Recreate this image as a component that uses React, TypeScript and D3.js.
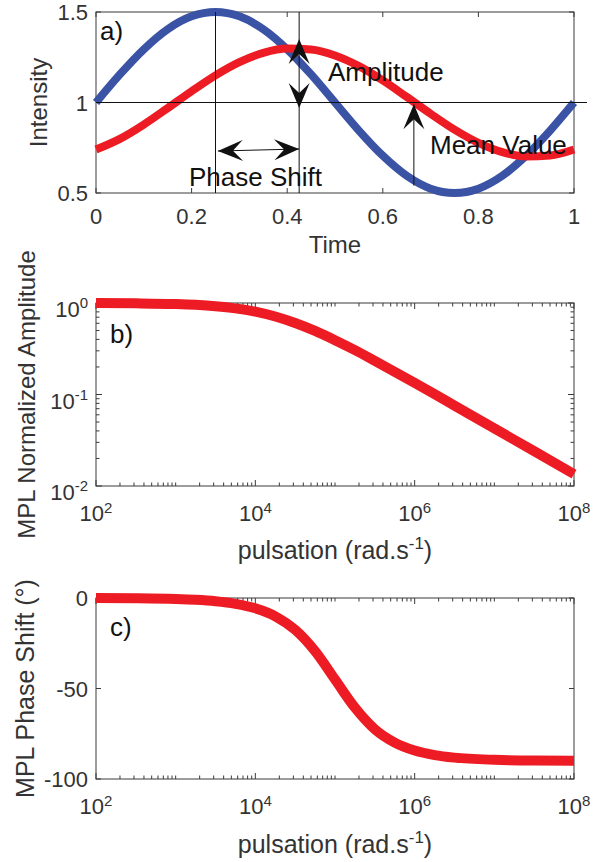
import React from "react";
import * as d3 from "d3";

// ---- Panel a data ----
const timeA = [0, 0.05, 0.1, 0.15, 0.2, 0.25, 0.3, 0.35, 0.4, 0.45, 0.5, 0.55, 0.6, 0.65, 0.7, 0.75, 0.8, 0.85, 0.9, 0.95, 1];
const blueA = [1, 1.155, 1.294, 1.405, 1.476, 1.5, 1.476, 1.405, 1.294, 1.155, 1, 0.845, 0.706, 0.595, 0.524, 0.5, 0.524, 0.595, 0.706, 0.845, 1];
const redA = [0.74, 0.799, 0.878, 0.969, 1.062, 1.15, 1.223, 1.274, 1.298, 1.293, 1.26, 1.201, 1.122, 1.031, 0.938, 0.85, 0.777, 0.726, 0.702, 0.707, 0.74];
const xTicksA = [0, 0.2, 0.4, 0.6, 0.8, 1];
const xTickLabelsA = ["0", "0.2", "0.4", "0.6", "0.8", "1"];
const yTicksA = [0.5, 1, 1.5];
const yTickLabelsA = ["0.5", "1", "1.5"];

// ---- Panels b & c data ----
const pulsation = [1e2, 3.16e2, 1e3, 1.78e3, 3.16e3, 5.62e3, 1e4, 1.78e4, 3.16e4, 5.62e4, 1e5, 1.78e5, 3.16e5, 5.62e5, 1e6, 1.78e6, 3.16e6, 1e7, 3.16e7, 1e8];
const amplitude = [0.997, 0.991, 0.974, 0.955, 0.923, 0.874, 0.803, 0.711, 0.604, 0.495, 0.392, 0.305, 0.233, 0.177, 0.134, 0.101, 0.0757, 0.0426, 0.024, 0.0135];
const phaseShift = [-0.06, -0.18, -0.57, -1.02, -1.81, -3.22, -5.71, -10.1, -17.6, -29.4, -45.0, -60.6, -72.5, -79.9, -84.3, -86.8, -88.2, -89.4, -89.8, -89.9];
const xDecadeLabels = [2, 4, 6, 8];
const yDecadeLabelsB = [0, -1, -2];
const yTicksC = [0, -50, -100];
const yTickLabelsC = ["0", "-50", "-100"];

const FONT = "'Liberation Sans', Arial, Helvetica, sans-serif";
const AXC = "#3a3a3a";
const TXC = "#333333";
const BLUE = "#3a53a4";
const RED = "#ed1c24";
const TICK_FS = 22;
const LABEL_FS = 24;
const ANN_FS = 26;

const X0 = 96, X1 = 574;

function Box({ y0, y1 }: { y0: number; y1: number }) {
  return <rect x={X0} y={y0} width={X1 - X0} height={y1 - y0} fill="none" stroke={AXC} strokeWidth={1} />;
}

function Arrow({ x1, y1, x2, y2 }: { x1: number; y1: number; x2: number; y2: number }) {
  const L = 25, W = 21, N = 15;
  const ang = Math.atan2(y2 - y1, x2 - x1);
  const c = Math.cos(ang), s = Math.sin(ang);
  const pt = (a: number, b: number) => [x2 + a * c - b * s, y2 + a * s + b * c];
  const p1 = pt(-L, W / 2), p2 = pt(-N, 0), p3 = pt(-L, -W / 2);
  return (
    <path d={`M${x2},${y2}L${p1[0]},${p1[1]}L${p2[0]},${p2[1]}L${p3[0]},${p3[1]}Z`} fill="#111" />
  );
}

function logMinor(lo: number, hi: number) {
  const out: { v: number; major: boolean }[] = [];
  for (let k = lo; k < hi; k++) {
    for (let m = 1; m <= 9; m++) out.push({ v: m * Math.pow(10, k), major: m === 1 });
  }
  out.push({ v: Math.pow(10, hi), major: true });
  return out;
}

export default function App() {
  const ya0 = 12, ya1 = 193;
  const xa = d3.scaleLinear().domain([0, 1]).range([X0, X1]);
  const ya = d3.scaleLinear().domain([0.5, 1.5]).range([ya1, ya0]);
  const lineA = (vals: number[]) =>
    d3.line<number>().x((_, i) => xa(timeA[i])).y((d) => ya(d)).curve(d3.curveMonotoneX)(vals) || "";

  const yb0 = 303, yb1 = 486;
  const xb = d3.scaleLog().domain([1e2, 1e8]).range([X0, X1]);
  const yb = d3.scaleLog().domain([1e-2, 1]).range([yb1, yb0]);
  const lineB = d3.line<number>().x((_, i) => xb(pulsation[i])).y((d) => yb(d)).curve(d3.curveMonotoneX)(amplitude) || "";

  const yc0 = 598, yc1 = 779;
  const yc = d3.scaleLinear().domain([-100, 0]).range([yc1, yc0]);
  const lineC = d3.line<number>().x((_, i) => xb(pulsation[i])).y((d) => yc(d)).curve(d3.curveMonotoneX)(phaseShift) || "";

  const xLogTicks = logMinor(2, 8);
  const yLogTicks = logMinor(-2, 0);

  const isLabeledX = (v: number) => xDecadeLabels.some((e) => Math.abs(Math.log10(v) - e) < 1e-6);

  const logXAxis = (y0: number, y1: number) => (
    <g>
      {xLogTicks.map((t, i) => {
        const x = xb(t.v);
        const len = isLabeledX(t.v) ? 6 : 3.5;
        return (
          <g key={i}>
            <line x1={x} x2={x} y1={y1} y2={y1 - len} stroke={AXC} strokeWidth={1} />
            <line x1={x} x2={x} y1={y0} y2={y0 + len} stroke={AXC} strokeWidth={1} />
          </g>
        );
      })}
      {xDecadeLabels.map((e) => (
        <text key={e} x={xb(Math.pow(10, e))} y={y1 + 35} textAnchor="middle" fontSize={TICK_FS} fill={TXC} fontFamily={FONT}>
          10<tspan dy={-8} fontSize={15}>{e}</tspan>
        </text>
      ))}
    </g>
  );

  const pulsLabel = (y: number) => (
    <text x={(X0 + X1) / 2} y={y} textAnchor="middle" fontSize={25} fill={TXC}>
      pulsation (rad.s<tspan dy={-10} fontSize={17}>-1</tspan><tspan dy={10}>)</tspan>
    </text>
  );

  return (
    <svg width={603} height={862} style={{ position: "absolute", left: 0, top: 0, background: "#fff" }} fontFamily={FONT}>
      <rect width={603} height={862} fill="#fff" />
      {/* ===== Panel a ===== */}
      <Box y0={ya0} y1={ya1} />
      {xTicksA.map((t) => (
        <g key={t}>
          <line x1={xa(t)} x2={xa(t)} y1={ya1} y2={ya1 - 5} stroke={AXC} />
          <line x1={xa(t)} x2={xa(t)} y1={ya0} y2={ya0 + 5} stroke={AXC} />
        </g>
      ))}
      {yTicksA.map((t) => (
        <g key={t}>
          <line x1={X0} x2={X0 + 5} y1={ya(t)} y2={ya(t)} stroke={AXC} />
          <line x1={X1} x2={X1 - 5} y1={ya(t)} y2={ya(t)} stroke={AXC} />
        </g>
      ))}
      {xTicksA.map((t, i) => (
        <text key={t} x={xa(t)} y={ya1 + 31} textAnchor="middle" fontSize={TICK_FS} fill={TXC}>
          {xTickLabelsA[i]}
        </text>
      ))}
      {yTicksA.map((t, i) => (
        <text key={t} x={88} y={ya(t) + 8} textAnchor="end" fontSize={TICK_FS} fill={TXC}>
          {yTickLabelsA[i]}
        </text>
      ))}
      <text x={(X0 + X1) / 2} y={253} textAnchor="middle" fontSize={LABEL_FS} fill={TXC}>Time</text>
      <text transform={`translate(47,${(ya0 + ya1) / 2}) rotate(-90)`} textAnchor="middle" fontSize={LABEL_FS} fill={TXC}>Intensity</text>

      <path d={lineA(blueA)} fill="none" stroke={BLUE} strokeWidth={8} strokeLinejoin="round" />
      <path d={lineA(redA)} fill="none" stroke={RED} strokeWidth={8} strokeLinejoin="round" />

      {/* annotation lines */}
      <line x1={X0} x2={587} y1={ya(1)} y2={ya(1)} stroke="#111" strokeWidth={1} />
      <line x1={xa(0.25)} x2={xa(0.25)} y1={ya0} y2={ya1} stroke="#111" strokeWidth={1} />
      <line x1={xa(0.425)} x2={xa(0.425)} y1={ya0} y2={ya1} stroke="#111" strokeWidth={1} />
      <line x1={xa(0.255)} y1={ya(0.732)} x2={xa(0.425)} y2={ya(0.743)} stroke="#111" strokeWidth={1} />
      <Arrow x1={xa(0.425)} y1={ya(0.743)} x2={xa(0.255)} y2={ya(0.732)} />
      <Arrow x1={xa(0.255)} y1={ya(0.732)} x2={xa(0.425)} y2={ya(0.743)} />
      <Arrow x1={xa(0.425)} y1={ya(0.97)} x2={xa(0.425)} y2={ya(1.351)} />
      <Arrow x1={xa(0.425)} y1={ya(1.351)} x2={xa(0.425)} y2={ya(0.97)} />
      <line x1={xa(0.665)} x2={xa(0.665)} y1={ya(0.541)} y2={ya(0.99)} stroke="#111" strokeWidth={1} />
      <Arrow x1={xa(0.665)} y1={ya(0.541)} x2={xa(0.665)} y2={ya(0.99)} />

      <text x={100} y={40} fontSize={ANN_FS} fill="#111">a)</text>
      <text x={328} y={81} fontSize={ANN_FS} fill="#111">Amplitude</text>
      <text x={430} y={154} fontSize={ANN_FS} fill="#111">Mean Value</text>
      <text x={189} y={186} fontSize={ANN_FS} fill="#111">Phase Shift</text>

      {/* ===== Panel b ===== */}
      <Box y0={yb0} y1={yb1} />
      {logXAxis(yb0, yb1)}
      {yLogTicks.map((t, i) => {
        const y = yb(t.v);
        const len = t.major ? 6 : 3.5;
        return (
          <g key={i}>
            <line x1={X0} x2={X0 + len} y1={y} y2={y} stroke={AXC} />
            <line x1={X1} x2={X1 - len} y1={y} y2={y} stroke={AXC} />
          </g>
        );
      })}
      {yDecadeLabelsB.map((e) => (
        <text key={e} x={88} y={yb(Math.pow(10, e)) + 14} textAnchor="end" fontSize={TICK_FS} fill={TXC}>
          10<tspan dy={-9} fontSize={15}>{e}</tspan>
        </text>
      ))}
      <path d={lineB} fill="none" stroke={RED} strokeWidth={10} strokeLinejoin="round" />
      <text x={110} y={343} fontSize={ANN_FS} fill="#111">b)</text>
      {pulsLabel(559)}
      <text transform={`translate(35,${(yb0 + yb1) / 2}) rotate(-90)`} textAnchor="middle" fontSize={LABEL_FS} fill={TXC}>MPL Normalized Amplitude</text>

      {/* ===== Panel c ===== */}
      <Box y0={yc0} y1={yc1} />
      {logXAxis(yc0, yc1)}
      {yTicksC.map((t, i) => (
        <g key={t}>
          <line x1={X0} x2={X0 + 5} y1={yc(t)} y2={yc(t)} stroke={AXC} />
          <line x1={X1} x2={X1 - 5} y1={yc(t)} y2={yc(t)} stroke={AXC} />
          <text x={88} y={yc(t) + 8} textAnchor="end" fontSize={TICK_FS} fill={TXC}>{yTickLabelsC[i]}</text>
        </g>
      ))}
      <path d={lineC} fill="none" stroke={RED} strokeWidth={10} strokeLinejoin="round" />
      <text x={110} y={636} fontSize={ANN_FS} fill="#111">c)</text>
      {pulsLabel(853)}
      <text transform={`translate(34,${(yc0 + yc1) / 2}) rotate(-90)`} textAnchor="middle" fontSize={25} fill={TXC}>MPL Phase Shift (°)</text>
    </svg>
  );
}
